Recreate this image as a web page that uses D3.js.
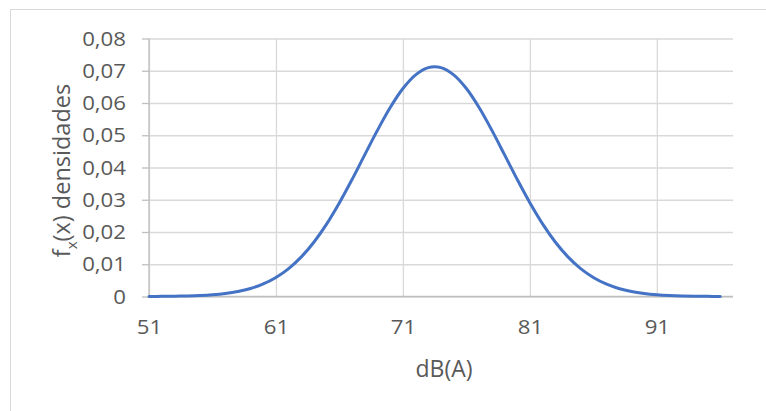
<!DOCTYPE html>
<html>
<head>
<meta charset="utf-8">
<script src="https://cdn.jsdelivr.net/npm/d3@7"></script>
<style>
  html, body { margin: 0; padding: 0; background: #fff; }
  svg { display: block; }
  text { font-family: "Open Sans", sans-serif; fill: #595959; }
</style>
</head>
<body>
<svg id="chart" width="766" height="411"></svg>
<script>
// Data (dB(A) vs density)
const xValues = [51,52,53,54,55,56,57,58,59,60,61,62,63,64,65,66,67,68,69,70,71,72,73,74,75,76,77,78,79,80,81,82,83,84,85,86,87,88,89,90,91,92,93,94,95,96];
const densities = [0.0000222,0.0000449,0.0000877,0.000166,0.000304,0.000539,0.000927,0.001546,0.002494,0.003897,0.005898,0.008648,0.01228,0.01690,0.02251,0.02906,0.03633,0.04398,0.05158,0.05860,0.06449,0.06873,0.07096,0.07096,0.06873,0.06449,0.05860,0.05158,0.04398,0.03633,0.02906,0.02251,0.01690,0.01228,0.008648,0.005898,0.003897,0.002494,0.001546,0.000927,0.000539,0.000304,0.000166,0.0000877,0.0000449,0.0000222];
const xTicks = [51,61,71,81,91];
const yTicks = [0,0.01,0.02,0.03,0.04,0.05,0.06,0.07,0.08];
const xTitle = "dB(A)";

const svg = d3.select("#chart");

// outer chart border
svg.append("rect")
  .attr("x", 10.5).attr("y", 9.5)
  .attr("width", 800).attr("height", 500)
  .attr("fill", "none").attr("stroke", "#d9d9d9").attr("stroke-width", 1);

const pL = 149, pR = 733, pT = 38.5, pB = 296.5;
const x = d3.scaleLinear().domain([51, 97]).range([pL, pR]);
const y = d3.scaleLinear().domain([0, 0.08]).range([pB, pT]);

const fmt = d => d === 0 ? "0" : d3.format(".2f")(d).replace(".", ",");
const sx = 1.14; // horizontal stretch of tick labels

// horizontal gridlines
svg.append("g")
  .attr("transform", `translate(${pL},0)`)
  .call(d3.axisLeft(y).tickValues(yTicks).tickSize(-(pR - pL)).tickFormat(""))
  .call(g => g.select(".domain").remove())
  .call(g => g.selectAll("line").attr("stroke", "#d9d9d9").attr("stroke-width", 1.3));

// vertical gridlines
svg.append("g")
  .attr("transform", `translate(0,${pT})`)
  .call(d3.axisBottom(x).tickValues(xTicks).tickSize(pB - pT).tickFormat(""))
  .call(g => g.select(".domain").remove())
  .call(g => g.selectAll("line").attr("stroke", "#d9d9d9").attr("stroke-width", 1.3));

// y axis with outer ticks
const yAxis = svg.append("g")
  .attr("transform", `translate(${pL},0)`)
  .call(d3.axisLeft(y).tickValues(yTicks).tickSize(7).tickFormat(fmt));
yAxis.select(".domain").attr("stroke", "#bfbfbf").attr("stroke-width", 1.3).attr("d", `M0,${pT}V${pB}`);
yAxis.selectAll("line").attr("stroke", "#bfbfbf").attr("stroke-width", 1.3);
yAxis.selectAll("text")
  .attr("font-size", 19.5).attr("font-family", "Open Sans").attr("fill", "#595959")
  .attr("x", -23 / sx).attr("dy", "0.34em")
  .attr("transform", `scale(${sx},1)`);

// x axis
const xAxis = svg.append("g")
  .attr("transform", `translate(0,${pB})`)
  .call(d3.axisBottom(x).tickValues(xTicks).tickSize(0).tickFormat(d3.format("d")));
xAxis.select(".domain").attr("stroke", "#bfbfbf").attr("stroke-width", 1.3).attr("d", `M${pL},0H${pR}`);
xAxis.selectAll("text")
  .attr("font-size", 19.5).attr("font-family", "Open Sans").attr("fill", "#595959")
  .attr("y", 38).attr("dy", null)
  .attr("transform", `scale(${sx},1)`);

// curve
const pts = xValues.map((v, i) => [v, densities[i]]);
svg.append("path")
  .datum(pts)
  .attr("fill", "none")
  .attr("stroke", "#4472c4")
  .attr("stroke-width", 3)
  .attr("stroke-linecap", "round")
  .attr("d", d3.line().x(d => x(d[0])).y(d => y(d[1])).curve(d3.curveCatmullRom.alpha(0.5)));

// x title
svg.append("text")
  .attr("x", 444).attr("y", 377)
  .attr("text-anchor", "middle")
  .attr("font-size", 23)
  .text(xTitle);

// y title with subscript
const yt = svg.append("text")
  .attr("transform", `translate(70,170.5) rotate(-90)`)
  .attr("text-anchor", "middle")
  .attr("font-size", 23.5);
yt.append("tspan").text("f");
yt.append("tspan").attr("font-size", 15).attr("dy", 7).text("x");
yt.append("tspan").attr("dy", -7).text("(x) densidades");
</script>
</body>
</html>
